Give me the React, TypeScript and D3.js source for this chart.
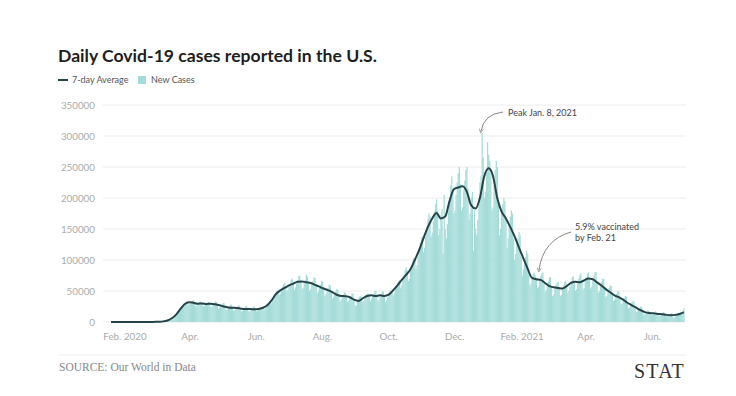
import React from "react";
import * as d3 from "d3";

// ---- Data (values in thousands of cases) ----
const startDate = "2020-02-01";
// 7-day average, one value every 4 days starting Feb 1 2020
const avgStepDays = 4;
const avgValues = [
  0, 0, 0, 0, 0, 0, 0, 0, 0, 0, 0.2, 0.5, 1, 2.5, 6, 12, 21, 29, 32, 31,
  29.5, 30, 29, 29.5, 28.5, 27, 25, 23.5, 23, 22.5, 21.5, 21, 21, 20.5, 21, 23, 27, 35, 45, 51,
  55, 59, 62, 65, 65.5, 64, 63, 60, 57, 54, 51.5, 48, 44, 42, 41.5, 40, 36, 34, 38, 42,
  43, 42, 43, 42, 44, 51, 59, 68, 76, 85, 100, 116, 135, 153, 167, 176, 167, 170, 195, 214,
  217, 219, 210, 188, 183, 200, 235, 248, 236, 200, 178, 167, 153, 138, 120, 103, 86, 71, 69, 68,
  63, 58, 56, 55, 54, 58, 63, 65, 64, 67, 70, 69, 64, 59, 53, 48, 43, 40, 36, 31,
  27, 23, 19, 16, 14.5, 14, 13, 12.5, 11.5, 11, 11.5, 13, 16,
];
// Daily new cases, Feb 1 2020 onward, one row per week (Sat..Fri)
const newCases = [
  0, 0, 0, 0, 0, 0, 0,
  0, 0, 0, 0, 0, 0, 0,
  0, 0, 0, 0, 0, 0, 0,
  0, 0, 0, 0, 0, 0, 0,
  0, 0, 0, 0, 0, 0, 0,
  0.1, 0.1, 0.2, 0.2, 0.3, 0.3, 0.4,
  0.5, 0.4, 0.5, 0.6, 0.8, 0.9, 1.2,
  1.5, 1.8, 2.5, 3, 4, 5, 6,
  7, 8, 10, 12, 13, 15, 17,
  19, 20, 23, 26, 27, 29, 31,
  33, 27, 29, 30, 31, 34, 35,
  30, 25, 26, 28, 31, 33, 33,
  30, 25, 26, 29, 30, 31, 32,
  29, 24, 25, 28, 30, 33, 32,
  27, 21, 23, 25, 28, 30, 31,
  25, 19, 20, 23, 25, 28, 28,
  23, 18, 19, 21, 23, 26, 27,
  22, 17, 18, 20, 22, 25, 26,
  21, 17, 17, 19, 22, 24, 25,
  22, 17, 18, 20, 22, 24, 24,
  24, 20, 22, 25, 28, 30, 31,
  33, 30, 34, 40, 45, 48, 50,
  50, 44, 46, 52, 57, 61, 63,
  58, 49, 52, 57, 62, 68, 70,
  64, 52, 56, 62, 67, 74, 75,
  65, 53, 55, 63, 68, 76, 73,
  63, 50, 53, 60, 66, 72, 71,
  58, 46, 49, 55, 60, 66, 65,
  53, 42, 45, 50, 55, 60, 59,
  47, 37, 40, 44, 49, 53, 52,
  43, 33, 36, 40, 44, 48, 47,
  41, 32, 34, 38, 42, 46, 46,
  34, 26, 27, 33, 38, 41, 42,
  40, 32, 34, 39, 43, 46, 46,
  44, 34, 37, 41, 45, 50, 50,
  44, 33, 36, 41, 45, 49, 49,
  43, 32, 35, 40, 45, 49, 50,
  52, 42, 46, 53, 59, 63, 66,
  68, 55, 60, 69, 77, 84, 88,
  83, 66, 70, 82, 92, 98, 104,
  102, 86, 92, 106, 120, 128, 136,
  138, 112, 120, 138, 154, 166, 175,
  170, 138, 144, 162, 178, 190, 198,
  180, 140, 150, 172, 182, 110, 205,
  150, 135, 158, 180, 200, 220, 235,
  215, 175, 180, 205, 225, 240, 250,
  222, 180, 185, 212, 228, 245, 250,
  215, 165, 175, 200, 210, 115, 180,
  150, 140, 165, 200, 225, 235, 305,
  265, 200, 210, 240, 290, 270, 260,
  240, 180, 185, 220, 245, 260, 250,
  190, 140, 150, 175, 190, 200, 195,
  165, 120, 135, 155, 170, 180, 175,
  135, 100, 110, 125, 135, 145, 140,
  105, 75, 85, 95, 105, 115, 110,
  80, 58, 62, 70, 78, 80, 75,
  70, 55, 56, 68, 74, 78, 80,
  62, 48, 52, 60, 66, 72, 72,
  58, 42, 45, 54, 60, 64, 65,
  56, 42, 44, 53, 59, 64, 66,
  60, 47, 50, 58, 66, 72, 74,
  64, 50, 53, 62, 70, 75, 78,
  68, 52, 55, 65, 72, 78, 80,
  70, 54, 57, 67, 74, 80, 81,
  62, 47, 50, 58, 64, 70, 69,
  54, 40, 42, 49, 55, 59, 58,
  45, 34, 36, 41, 46, 50, 49,
  38, 28, 30, 34, 39, 42, 41,
  30, 22, 24, 27, 31, 34, 32,
  22, 16, 17, 20, 23, 25, 24,
  17, 12, 13, 15, 17, 18, 17,
  15, 11, 11, 13, 15, 17, 16,
  14, 10, 10, 12, 14, 16, 15,
  13, 9, 10, 11, 13, 14, 14,
  8, 6, 12, 11, 13, 15, 14,
  16, 12, 14, 22,
];
const yTicks = [0, 50000, 100000, 150000, 200000, 250000, 300000, 350000];
const xTickDates = ["2020-02-01", "2020-04-01", "2020-06-01", "2020-08-01", "2020-10-01", "2020-12-01", "2021-02-01", "2021-04-01", "2021-06-01"];
const xTickLabels = ["Feb. 2020", "Apr.", "Jun.", "Aug.", "Oct.", "Dec.", "Feb. 2021", "Apr.", "Jun."];

const DAY = 864e5;
const t0 = new Date(startDate + "T00:00:00Z").getTime();
const dayDate = (i: number) => new Date(t0 + i * DAY);

const BAR = "#a4dcd9";
const LINE = "#27434a";

export default function App() {
  const W = 736, H = 396;
  const lastDay = newCases.length - 1;
  const x = d3.scaleUtc().domain([dayDate(0), dayDate(lastDay)]).range([111, 111 + lastDay * 1.085]);
  const y = d3.scaleLinear().domain([0, 350000]).range([322, 105]);
  const step = x(dayDate(1)) - x(dayDate(0));

  const avgPts = avgValues.map((v, k) => [x(dayDate(k * avgStepDays)), y(v * 1000)] as [number, number]);
  const line = d3.line<[number, number]>().x(d => d[0]).y(d => d[1]).curve(d3.curveMonotoneX);

  const font = "Lato, 'Open Sans', sans-serif";
  const serif = "'Liberation Serif', 'DejaVu Serif', serif";
  return (
    <svg width={W} height={H} style={{ position: "absolute", left: 0, top: 0, background: "#fff" }}>
      <rect width={W} height={H} fill="#fff" />
      <text x={58} y={62} fontFamily={font} fontWeight={700} fontSize={17.6} fill="#1e1e1e">
        Daily Covid-19 cases reported in the U.S.
      </text>
      {/* legend */}
      <line x1={58} x2={68} y1={80} y2={80} stroke={LINE} strokeWidth={2} />
      <text x={72} y={83} fontFamily={font} fontSize={9} fill="#555">7-day Average</text>
      <rect x={138} y={76} width={8} height={8} fill={BAR} />
      <text x={151} y={83} fontFamily={font} fontSize={9} fill="#555">New Cases</text>

      {/* grid + y axis */}
      {yTicks.map(t => (
        <g key={t}>
          <line x1={103} x2={686} y1={y(t)} y2={y(t)} stroke="#ececec" strokeWidth={1} />
          <text x={95} y={y(t) + 3.5} textAnchor="end" fontFamily={font} fontSize={9.8} fill="#ababab">{t}</text>
        </g>
      ))}

      {/* bars */}
      {newCases.map((v, i) => (
        <rect key={i} x={x(dayDate(i)) - step * 0.5} width={step + 0.15} y={y(v * 1000)} height={y(0) - y(v * 1000)} fill={BAR} />
      ))}

      {/* average line */}
      <path d={line(avgPts) || ""} fill="none" stroke={LINE} strokeWidth={2} strokeLinejoin="round" />

      {/* x axis labels */}
      {xTickDates.map((d, k) => (
        <text key={d} x={x(new Date(d + "T00:00:00Z")) + 14} y={340} textAnchor="middle" fontFamily={font} fontSize={9.8} fill="#ababab">
          {xTickLabels[k]}
        </text>
      ))}

      {/* annotations */}
      <defs>
        <marker id="ah" viewBox="0 0 10 10" refX="5" refY="5" markerWidth="5" markerHeight="5" orient="auto-start-reverse">
          <path d="M1,1 L9,5 L1,9" fill="none" stroke="#888" strokeWidth={1.5} />
        </marker>
      </defs>
      <path d="M503,112 Q484,114 481,131" fill="none" stroke="#888" strokeWidth={1} markerEnd="url(#ah)" />
      <text x={508} y={116} fontFamily={font} fontSize={9} fill="#444">Peak Jan. 8, 2021</text>
      <path d="M571,232 Q543,240 539,270" fill="none" stroke="#888" strokeWidth={1} markerEnd="url(#ah)" />
      <text x={575} y={230} fontFamily={font} fontSize={9} fill="#444">5.9% vaccinated</text>
      <text x={575} y={241} fontFamily={font} fontSize={9} fill="#444">by Feb. 21</text>

      {/* footer */}
      <line x1={59} x2={686} y1={355} y2={355} stroke="#eeeeee" strokeWidth={1} />
      <text x={59} y={371} fontFamily={serif} fontSize={11.5} fill="#888">SOURCE: Our World in Data</text>
      <text x={685} y={378} textAnchor="end" fontFamily={serif} fontSize={20} letterSpacing={1.2} fill="#333">STAT</text>
    </svg>
  );
}
